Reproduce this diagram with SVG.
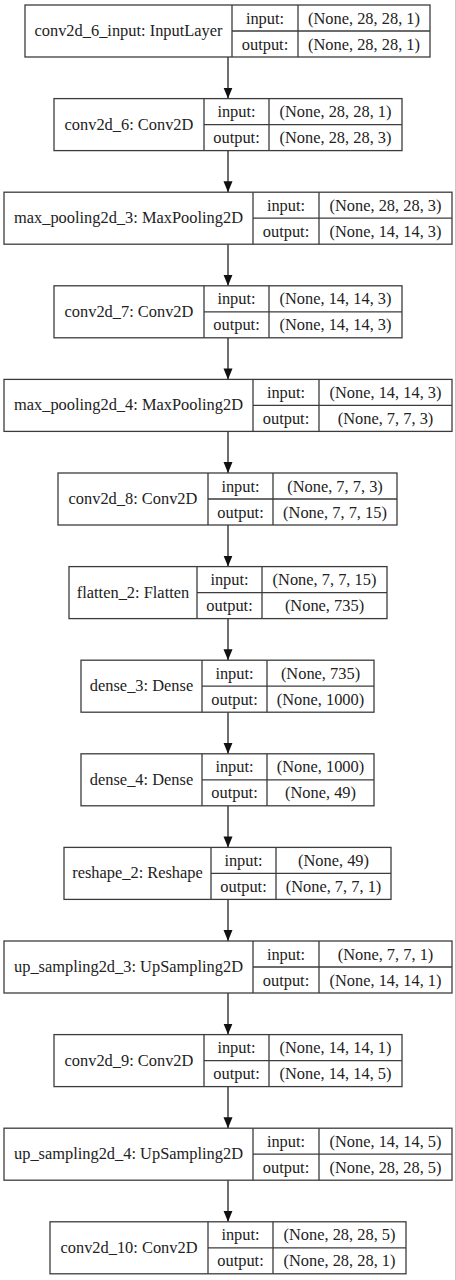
<svg xmlns="http://www.w3.org/2000/svg" width="456" height="1280" viewBox="0 0 456 1280" font-family="'Liberation Serif', 'DejaVu Serif', serif">
<style>
.b{fill:#fff;stroke:#3c3c3c;stroke-width:1.3}
.d{stroke:#3c3c3c;stroke-width:1.3;fill:none}
text{font-family:'Liberation Serif','DejaVu Serif',serif;font-size:16.4px;fill:#222;text-anchor:middle}
.c{stroke:#222;stroke-width:1.3;fill:none;marker-end:url(#ah)}
</style>
<defs>
<marker id="ah" markerUnits="userSpaceOnUse" markerWidth="12" markerHeight="10" refX="11" refY="4.5" orient="auto">
<path d="M0,0 L11,4.5 L0,9 z" fill="#111"/>
</marker>
</defs>
<rect x="0" y="0" width="456" height="1280" fill="#fff"/>
<line x1="455.5" y1="0" x2="455.5" y2="1280" stroke="#c8c8c8" stroke-width="1"/>
<g id="connectors">
<line class="c" x1="228" y1="57" x2="228" y2="98.6"/>
<line class="c" x1="228" y1="150.6" x2="228" y2="192.2"/>
<line class="c" x1="228" y1="244.2" x2="228" y2="285.8"/>
<line class="c" x1="228" y1="337.8" x2="228" y2="379.4"/>
<line class="c" x1="228" y1="431.4" x2="228" y2="473"/>
<line class="c" x1="228" y1="525" x2="228" y2="566.6"/>
<line class="c" x1="228" y1="618.6" x2="228" y2="660.2"/>
<line class="c" x1="228" y1="712.2" x2="228" y2="753.8"/>
<line class="c" x1="228" y1="805.8" x2="228" y2="847.4"/>
<line class="c" x1="228" y1="899.4" x2="228" y2="941"/>
<line class="c" x1="228" y1="993" x2="228" y2="1034.6"/>
<line class="c" x1="228" y1="1086.6" x2="228" y2="1128.2"/>
<line class="c" x1="228" y1="1180.2" x2="228" y2="1221.8"/>
</g>
<g id="n1" transform="translate(0,5)">
<rect class="b" x="25" y="0" width="405" height="52"/>
<path class="d" d="M232,0V52M298,0V52M232,26H430"/>
<text x="128.5" y="31">conv2d_6_input: InputLayer</text>
<text x="265" y="18.5">input:</text><text x="364" y="18.5">(None, 28, 28, 1)</text>
<text x="265" y="44.5">output:</text><text x="364" y="44.5">(None, 28, 28, 1)</text>
</g>
<g id="n2" transform="translate(0,98.6)">
<rect class="b" x="54" y="0" width="348" height="52"/>
<path class="d" d="M204,0V52M269,0V52M204,26H402"/>
<text x="129" y="31">conv2d_6: Conv2D</text>
<text x="236.5" y="18.5">input:</text><text x="335.5" y="18.5">(None, 28, 28, 1)</text>
<text x="236.5" y="44.5">output:</text><text x="335.5" y="44.5">(None, 28, 28, 3)</text>
</g>
<g id="n3" transform="translate(0,192.2)">
<rect class="b" x="4" y="0" width="448" height="52"/>
<path class="d" d="M253,0V52M319,0V52M253,26H452"/>
<text x="128.5" y="31">max_pooling2d_3: MaxPooling2D</text>
<text x="286" y="18.5">input:</text><text x="385.5" y="18.5">(None, 28, 28, 3)</text>
<text x="286" y="44.5">output:</text><text x="385.5" y="44.5">(None, 14, 14, 3)</text>
</g>
<g id="n4" transform="translate(0,285.8)">
<rect class="b" x="54" y="0" width="348" height="52"/>
<path class="d" d="M204,0V52M269,0V52M204,26H402"/>
<text x="129" y="31">conv2d_7: Conv2D</text>
<text x="236.5" y="18.5">input:</text><text x="335.5" y="18.5">(None, 14, 14, 3)</text>
<text x="236.5" y="44.5">output:</text><text x="335.5" y="44.5">(None, 14, 14, 3)</text>
</g>
<g id="n5" transform="translate(0,379.4)">
<rect class="b" x="4" y="0" width="448" height="52"/>
<path class="d" d="M253,0V52M319,0V52M253,26H452"/>
<text x="128.5" y="31">max_pooling2d_4: MaxPooling2D</text>
<text x="286" y="18.5">input:</text><text x="385.5" y="18.5">(None, 14, 14, 3)</text>
<text x="286" y="44.5">output:</text><text x="385.5" y="44.5">(None, 7, 7, 3)</text>
</g>
<g id="n6" transform="translate(0,473)">
<rect class="b" x="58" y="0" width="339" height="52"/>
<path class="d" d="M208,0V52M273,0V52M208,26H397"/>
<text x="133" y="31">conv2d_8: Conv2D</text>
<text x="240.5" y="18.5">input:</text><text x="335" y="18.5">(None, 7, 7, 3)</text>
<text x="240.5" y="44.5">output:</text><text x="335" y="44.5">(None, 7, 7, 15)</text>
</g>
<g id="n7" transform="translate(0,566.6)">
<rect class="b" x="69" y="0" width="318" height="52"/>
<path class="d" d="M197,0V52M262,0V52M197,26H387"/>
<text x="133" y="31">flatten_2: Flatten</text>
<text x="229.5" y="18.5">input:</text><text x="324.5" y="18.5">(None, 7, 7, 15)</text>
<text x="229.5" y="44.5">output:</text><text x="324.5" y="44.5">(None, 735)</text>
</g>
<g id="n8" transform="translate(0,660.2)">
<rect class="b" x="81" y="0" width="293" height="52"/>
<path class="d" d="M202,0V52M267,0V52M202,26H374"/>
<text x="141.5" y="31">dense_3: Dense</text>
<text x="234.5" y="18.5">input:</text><text x="320.5" y="18.5">(None, 735)</text>
<text x="234.5" y="44.5">output:</text><text x="320.5" y="44.5">(None, 1000)</text>
</g>
<g id="n9" transform="translate(0,753.8)">
<rect class="b" x="81" y="0" width="293" height="52"/>
<path class="d" d="M202,0V52M267,0V52M202,26H374"/>
<text x="141.5" y="31">dense_4: Dense</text>
<text x="234.5" y="18.5">input:</text><text x="320.5" y="18.5">(None, 1000)</text>
<text x="234.5" y="44.5">output:</text><text x="320.5" y="44.5">(None, 49)</text>
</g>
<g id="n10" transform="translate(0,847.4)">
<rect class="b" x="64" y="0" width="327" height="52"/>
<path class="d" d="M211,0V52M276,0V52M211,26H391"/>
<text x="137.5" y="31">reshape_2: Reshape</text>
<text x="243.5" y="18.5">input:</text><text x="333.5" y="18.5">(None, 49)</text>
<text x="243.5" y="44.5">output:</text><text x="333.5" y="44.5">(None, 7, 7, 1)</text>
</g>
<g id="n11" transform="translate(0,941)">
<rect class="b" x="4" y="0" width="448" height="52"/>
<path class="d" d="M253,0V52M319,0V52M253,26H452"/>
<text x="128.5" y="31">up_sampling2d_3: UpSampling2D</text>
<text x="286" y="18.5">input:</text><text x="385.5" y="18.5">(None, 7, 7, 1)</text>
<text x="286" y="44.5">output:</text><text x="385.5" y="44.5">(None, 14, 14, 1)</text>
</g>
<g id="n12" transform="translate(0,1034.6)">
<rect class="b" x="54" y="0" width="348" height="52"/>
<path class="d" d="M204,0V52M269,0V52M204,26H402"/>
<text x="129" y="31">conv2d_9: Conv2D</text>
<text x="236.5" y="18.5">input:</text><text x="335.5" y="18.5">(None, 14, 14, 1)</text>
<text x="236.5" y="44.5">output:</text><text x="335.5" y="44.5">(None, 14, 14, 5)</text>
</g>
<g id="n13" transform="translate(0,1128.2)">
<rect class="b" x="4" y="0" width="448" height="52"/>
<path class="d" d="M253,0V52M319,0V52M253,26H452"/>
<text x="128.5" y="31">up_sampling2d_4: UpSampling2D</text>
<text x="286" y="18.5">input:</text><text x="385.5" y="18.5">(None, 14, 14, 5)</text>
<text x="286" y="44.5">output:</text><text x="385.5" y="44.5">(None, 28, 28, 5)</text>
</g>
<g id="n14" transform="translate(0,1221.8)">
<rect class="b" x="50" y="0" width="356" height="52"/>
<path class="d" d="M208,0V52M273,0V52M208,26H406"/>
<text x="129" y="31">conv2d_10: Conv2D</text>
<text x="240.5" y="18.5">input:</text><text x="339.5" y="18.5">(None, 28, 28, 5)</text>
<text x="240.5" y="44.5">output:</text><text x="339.5" y="44.5">(None, 28, 28, 1)</text>
</g>
</svg>
